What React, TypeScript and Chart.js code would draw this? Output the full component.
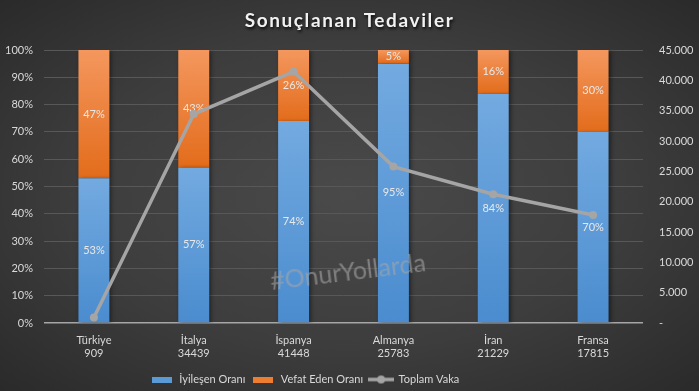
import React, { useEffect, useRef } from 'react';
import { Chart, registerables } from 'chart.js';

Chart.register(...registerables);

const titleText = 'Sonuçlanan Tedaviler';
const watermarkText = '#OnurYollarda';
const categories = ['Türkiye', 'İtalya', 'İspanya', 'Almanya', 'İran', 'Fransa'];
const totalCases = [909, 34439, 41448, 25783, 21229, 17815];
const recoveredPct = [53, 57, 74, 95, 84, 70];
const deathPct = [47, 43, 26, 5, 16, 30];
const seriesNames = ['İyileşen Oranı', 'Vefat Eden Oranı', 'Toplam Vaka'];
const pctMax = 100;
const pctStep = 10;
const casesMax = 45000;
const casesStep = 5000;

const FONT = 'Lato, "Open Sans", sans-serif';
const TEXT = '#d9d9d9';
const BLUE_TOP = '#73aae0';
const BLUE_BOT = '#4a8ccf';
const ORANGE_TOP = '#f4975e';
const ORANGE_BOT = '#e36c1b';
const GREY = '#a5a5a5';

function segGradient(top: string, bottom: string, lower: (i: number) => number, upper: (i: number) => number) {
  return (ctx: any) => {
    const chart = ctx.chart;
    const y = chart.scales && chart.scales.y;
    if (!chart.chartArea || !y || ctx.type !== 'data') return bottom;
    const i = ctx.dataIndex;
    const y0 = y.getPixelForValue(upper(i));
    const y1 = y.getPixelForValue(lower(i));
    if (!isFinite(y0) || !isFinite(y1) || y0 === y1) return bottom;
    const g = chart.ctx.createLinearGradient(0, y0, 0, y1);
    g.addColorStop(0, top);
    g.addColorStop(1, bottom);
    return g;
  };
}

function makeBoxIcon(color: string) {
  const c = document.createElement('canvas');
  c.width = 20;
  c.height = 6;
  const x = c.getContext('2d')!;
  x.fillStyle = color;
  x.fillRect(0, 0, 20, 6);
  return c;
}

function makeLineIcon() {
  const c = document.createElement('canvas');
  c.width = 26;
  c.height = 10;
  const x = c.getContext('2d')!;
  x.strokeStyle = GREY;
  x.lineWidth = 3.5;
  x.beginPath();
  x.moveTo(0, 5);
  x.lineTo(26, 5);
  x.stroke();
  x.fillStyle = GREY;
  x.beginPath();
  x.arc(13, 5, 4, 0, Math.PI * 2);
  x.fill();
  return c;
}

const barLabels = {
  id: 'barLabels',
  afterDatasetDraw(chart: any, args: any) {
    const meta = args.meta;
    if (meta.type !== 'bar') return;
    const ctx = chart.ctx;
    const data = chart.data.datasets[meta.index].data;
    ctx.save();
    ctx.font = `11px ${FONT}`;
    ctx.fillStyle = '#e8e8e8';
    ctx.textAlign = 'center';
    ctx.textBaseline = 'middle';
    meta.data.forEach((bar: any, i: number) => {
      const p = bar.getProps(['x', 'y', 'base'], true);
      ctx.fillText(`${data[i]}%`, p.x, (p.y + p.base) / 2);
    });
    ctx.restore();
  },
};

const barShadow = {
  id: 'barShadow',
  beforeDatasetDraw(chart: any, args: any) {
    if (args.meta.type !== 'bar') return;
    const ctx = chart.ctx;
    ctx.save();
    ctx.shadowColor = 'rgba(0,0,0,0.45)';
    ctx.shadowBlur = 4;
    ctx.shadowOffsetX = 2;
    ctx.shadowOffsetY = 1;
  },
  afterDatasetDraw(chart: any, args: any) {
    if (args.meta.type !== 'bar') return;
    chart.ctx.restore();
  },
};

const legendShift = {
  id: 'legendShift',
  afterLayout(chart: any) {
    const lg = chart.legend;
    if (!lg) return;
    lg.left -= 45;
    lg.right -= 45;
    lg.top += 4;
    lg.bottom += 4;
  },
};

export default function App() {
  const canvasRef = useRef<HTMLCanvasElement>(null);

  useEffect(() => {
    document.body.style.margin = '0';
    const canvas = canvasRef.current!;
    const icons = [makeBoxIcon('#5b9bd5'), makeBoxIcon('#ed7d31'), makeLineIcon()];

    const chart = new Chart(canvas, {
      type: 'bar',
      data: {
        labels: categories.map((c, i) => [c, String(totalCases[i])]),
        datasets: [
          {
            type: 'bar',
            label: seriesNames[0],
            data: recoveredPct,
            backgroundColor: segGradient(BLUE_TOP, BLUE_BOT, () => 0, (i) => recoveredPct[i]),
            yAxisID: 'y',
            stack: 's',
            order: 1,
            barPercentage: 0.31,
            categoryPercentage: 1,
          } as any,
          {
            type: 'bar',
            label: seriesNames[1],
            data: deathPct,
            backgroundColor: segGradient(ORANGE_TOP, ORANGE_BOT, (i) => recoveredPct[i], (i) => recoveredPct[i] + deathPct[i]),
            yAxisID: 'y',
            stack: 's',
            order: 1,
            barPercentage: 0.31,
            categoryPercentage: 1,
          } as any,
          {
            type: 'line',
            label: seriesNames[2],
            data: totalCases,
            yAxisID: 'y1',
            borderColor: GREY,
            backgroundColor: GREY,
            borderWidth: 3.5,
            pointRadius: 4,
            pointBackgroundColor: GREY,
            pointBorderWidth: 0,
            tension: 0,
            order: 0,
          } as any,
        ],
      },
      options: {
        responsive: false,
        animation: false,
        layout: { padding: { top: 50, left: 0, right: 0, bottom: 0 } },
        plugins: {
          tooltip: { enabled: false },
          legend: {
            position: 'bottom',
            labels: {
              color: TEXT,
              font: { family: FONT, size: 11 },
              padding: 6,
              usePointStyle: true,
              pointStyleWidth: 24,
              sort: (a: any, b: any) => a.datasetIndex - b.datasetIndex,
              generateLabels: (ch: any) => {
                const items = (Chart as any).defaults.plugins.legend.labels.generateLabels(ch);
                return items.map((it: any) => ({ ...it, pointStyle: icons[it.datasetIndex], fontColor: TEXT, lineWidth: 0 }));
              },
            },
          },
        },
        scales: {
          x: {
            stacked: true,
            grid: { display: false, drawTicks: false },
            border: { display: false },
            ticks: { color: TEXT, font: { family: FONT, size: 11, lineHeight: 1.15 }, padding: 11, maxRotation: 0 },
            afterFit: (s: any) => { s.height = 41; },
          },
          y: {
            position: 'left',
            stacked: true,
            min: 0,
            max: pctMax,
            grid: {
              drawTicks: false,
              color: (c: any) => (c.tick && c.tick.value === 0 ? '#a6a6a6' : '#585858'),
              lineWidth: (c: any) => (c.tick && c.tick.value === 0 ? 1.5 : 1),
            },
            border: { display: false },
            ticks: {
              stepSize: pctStep,
              color: TEXT,
              font: { family: FONT, size: 11 },
              padding: 11,
              callback: (v: any) => `${v}%`,
            },
            afterFit: (s: any) => { s.width = 44; },
          },
          y1: {
            position: 'right',
            min: 0,
            max: casesMax,
            grid: { display: false, drawTicks: false },
            border: { display: false },
            ticks: {
              stepSize: casesStep,
              color: TEXT,
              font: { family: FONT, size: 11 },
              padding: 16,
              callback: (v: any) => (v === 0 ? '-' : Number(v).toLocaleString('de-DE')),
            },
            afterFit: (s: any) => { s.width = 56; },
          },
        },
      } as any,
      plugins: [barShadow, barLabels, legendShift],
    });

    return () => chart.destroy();
  }, []);

  return (
    <div
      style={{
        position: 'relative',
        width: 699,
        height: 391,
        overflow: 'hidden',
        background: 'radial-gradient(ellipse at 50% 50%, #4a4a4a 0%, #3d3d3d 55%, #2a2a2a 100%)',
      }}
    >
      <canvas ref={canvasRef} width={699} height={391} style={{ display: 'block' }} />
      <div
        style={{
          position: 'absolute',
          top: 8,
          left: 0,
          width: 699,
          textAlign: 'center',
          fontFamily: FONT,
          fontWeight: 700,
          fontSize: 19,
          letterSpacing: 1.6,
          color: '#f2f2f2',
          textShadow: '1px 2px 3px rgba(0,0,0,0.8)',
          pointerEvents: 'none',
        }}
      >
        {titleText}
      </div>
      <div
        style={{
          position: 'absolute',
          left: 272,
          top: 265,
          fontFamily: FONT,
          fontSize: 25,
          lineHeight: '30px',
          color: 'rgba(165,165,165,0.6)',
          transform: 'rotate(-7deg)',
          transformOrigin: 'left bottom',
          whiteSpace: 'nowrap',
          pointerEvents: 'none',
        }}
      >
        {watermarkText}
      </div>
    </div>
  );
}
